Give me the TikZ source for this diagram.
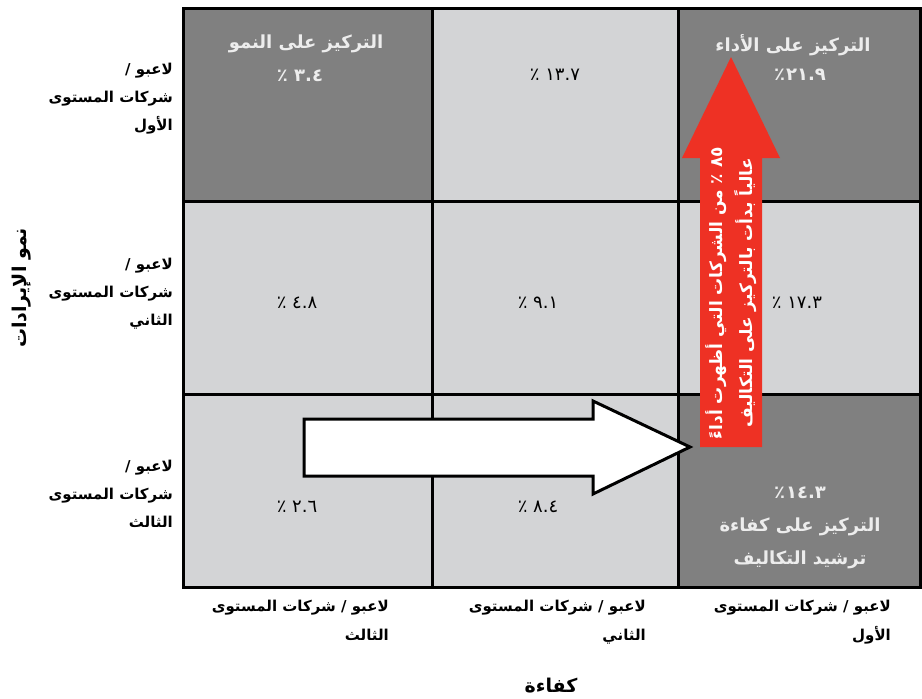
\documentclass[tikz,border=0pt]{standalone}
\usepackage{fontspec}
\TeXXeTstate=1
\newfontfamily\arabicfont[Script=Arabic]{DejaVu Sans}
\newfontfamily\numfont{DejaVu Sans}
\definecolor{darkcell}{HTML}{808080}
\definecolor{lightcell}{HTML}{D3D4D6}
\definecolor{arrowred}{HTML}{EE3124}
\tikzset{
  headtxt/.style={font=\arabicfont\bfseries\fontsize{18}{33}\selectfont, text=white!93!black, align=center, inner sep=0pt},
  headnum/.style={font=\numfont\bfseries\fontsize{18}{20}\selectfont, text=white!93!black, inner sep=0pt},
  cellnum/.style={font=\numfont\fontsize{18}{20}\selectfont, text=black, inner sep=0pt},
  rowlab/.style={font=\arabicfont\bfseries\fontsize{15}{28}\selectfont, align=right, anchor=east, inner sep=0pt},
  collab/.style={font=\arabicfont\bfseries\fontsize{15}{29}\selectfont, align=right, anchor=north east, inner sep=0pt},
  axislab/.style={font=\arabicfont\bfseries\fontsize{19}{22}\selectfont, inner sep=0pt},
  gridline/.style={line width=3pt, black},
}
\begin{document}
\begin{tikzpicture}[x=1pt,y=-1pt]
\useasboundingbox (0,0) rectangle (922,699);
% cells
\fill[darkcell]  (183,8) rectangle (432,201);
\fill[lightcell] (432,8) rectangle (678,201);
\fill[darkcell]  (678,8) rectangle (921,201);
\fill[lightcell] (183,201) rectangle (678,587);
\fill[lightcell] (678,201) rectangle (921,394);
\fill[darkcell]  (678,394) rectangle (921,587);
% grid
\draw[gridline] (183,8) rectangle (920.5,587);
\draw[gridline] (432,8) -- (432,587);
\draw[gridline] (678,8) -- (678,587);
\draw[gridline] (183,201) -- (920.5,201);
\draw[gridline] (183,394) -- (920.5,394);
% white arrow
\draw[fill=white, line width=3pt, line join=miter]
  (304,419) -- (593,419) -- (593,401) -- (690,447) -- (593,494) -- (593,476) -- (304,476) -- cycle;
% red arrow
\fill[arrowred] (700,447) -- (700,158) -- (682,158) -- (731,57) -- (780,158) -- (762,158) -- (762,447) -- cycle;
\node[rotate=90, font=\arabicfont\bfseries\fontsize{17}{30}\selectfont, text=white, align=center, inner sep=0pt] (redtxt) at (731,293)
  {\beginR ٨٥ ٪ من الشركات التي أظهرت أداءً\endR\\\beginR عالياً بدأت بالتركيز على التكاليف\endR};
% cell texts
\node[headtxt] (hgrowth) at (306,44) {\beginR التركيز على النمو\endR};
\node[headnum] (ngrowth) at (300,76) {\beginR ٣.٤ ٪\endR};
\node[headtxt] (hperf) at (793,45) {\beginR التركيز على الأداء\endR};
\node[headnum] (nperf) at (800,75) {\beginR ٢١.٩\kern1pt ٪\endR};
\node[cellnum] (n12) at (555,75) {\beginR ١٣.٧ ٪\endR};
\node[cellnum] (n21) at (297,303) {\beginR ٤.٨ ٪\endR};
\node[cellnum] (n22) at (538,303) {\beginR ٩.١ ٪\endR};
\node[cellnum] (n23) at (797,303) {\beginR ١٧.٣ ٪\endR};
\node[cellnum] (n31) at (297,507) {\beginR ٢.٦ ٪\endR};
\node[cellnum] (n32) at (538,507) {\beginR ٨.٤ ٪\endR};
\node[headnum] (ncost) at (800,493) {\beginR ١٤.٣\kern1pt ٪\endR};
\node[headtxt] (hcost) at (800,543) {\beginR التركيز على كفاءة\endR\\\beginR ترشيد التكاليف\endR};
% row labels
\node[rowlab] (r1) at (173,99) {\beginR لاعبو /\endR\\\beginR شركات المستوى\endR\\\beginR الأول\endR};
\node[rowlab] (r2) at (173,294) {\beginR لاعبو /\endR\\\beginR شركات المستوى\endR\\\beginR الثاني\endR};
\node[rowlab] (r3) at (173,494) {\beginR لاعبو /\endR\\\beginR شركات المستوى\endR\\\beginR الثالث\endR};
% column labels
\node[collab] (c1) at (389,600) {\beginR لاعبو / شركات المستوى\endR\\\beginR الثالث\endR};
\node[collab] (c2) at (646,600) {\beginR لاعبو / شركات المستوى\endR\\\beginR الثاني\endR};
\node[collab] (c3) at (891,600) {\beginR لاعبو / شركات المستوى\endR\\\beginR الأول\endR};
% axis labels
\node[axislab, rotate=90] (yaxis) at (22,288) {\beginR نمو الإيرادات\endR};
\node[axislab] (xaxis) at (551,686) {\beginR كفاءة\endR};
\end{tikzpicture}
\end{document}
